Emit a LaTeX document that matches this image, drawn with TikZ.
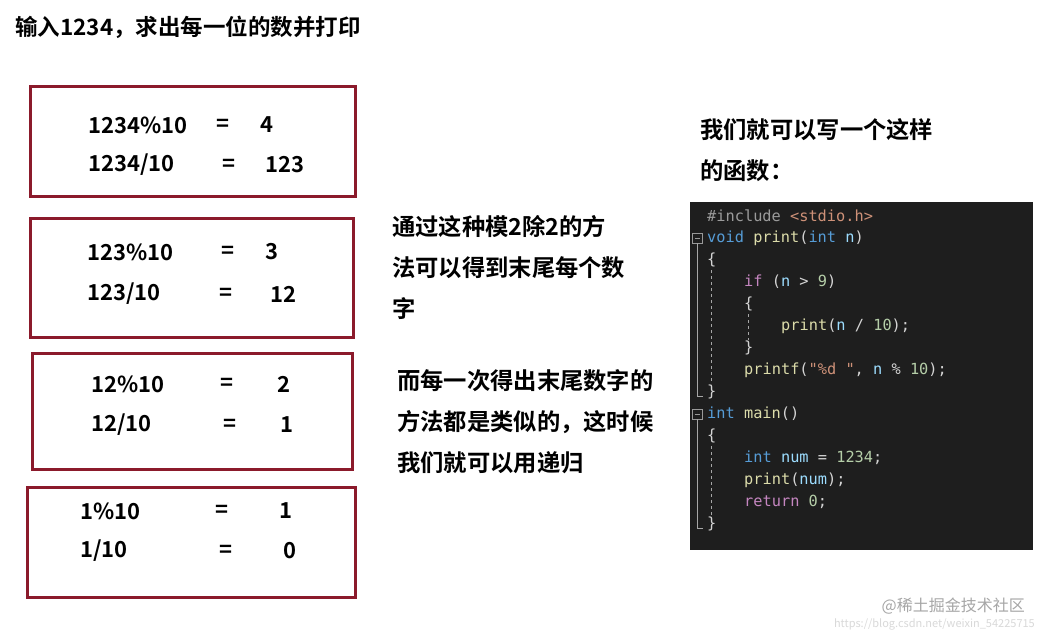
\documentclass[tikz,border=0pt]{standalone}
\usepackage{fontspec}
\setmainfont{Noto Sans CJK SC}[BoldFont=* Bold]
\newfontfamily\codefont{DejaVu Sans Mono}
\definecolor{boxred}{HTML}{8B1A2B}
\definecolor{codebg}{HTML}{1E1E1E}
\definecolor{kw}{HTML}{569CD6}
\definecolor{ctl}{HTML}{C586C0}
\definecolor{fn}{HTML}{DCDCAA}
\definecolor{prm}{HTML}{9CDCFE}
\definecolor{numc}{HTML}{B5CEA8}
\definecolor{strc}{HTML}{CE9178}
\definecolor{pun}{HTML}{D4D4D4}
\definecolor{pre}{HTML}{9B9B9B}
\begin{document}
\begin{tikzpicture}[x=1pt,y=-1pt,
  redbox/.style={draw=boxred,line width=3pt},
  mtxt/.style={anchor=west,font=\fontsize{22}{22}\selectfont\bfseries,inner sep=0},
  ctxt/.style={anchor=west,font=\fontsize{23.3}{23}\selectfont\bfseries,inner sep=0},
  code/.style={anchor=west,font=\fontsize{15.3}{15}\codefont,inner sep=0,text=pun},
  guide/.style={draw=gray!70,line width=0.6pt}]
\useasboundingbox (0,0) rectangle (1043,637);
\fill[white] (0,0) rectangle (1043,637);
\node[ctxt,font=\fontsize{22.5}{22}\selectfont\bfseries] (title) at (15,27) {输入1234，求出每一位的数并打印};
% boxes
\draw[redbox] (30,86) rectangle (355,196);
\draw[redbox] (30,218) rectangle (353,337);
\draw[redbox] (32,353) rectangle (352,469);
\draw[redbox] (27,487) rectangle (355,597);
\node[mtxt] (a1) at (88,125) {1234\%10}; \node[mtxt] (a2) at (216,125) {=}; \node[mtxt] (a3) at (260,125) {4};
\node[mtxt] (a4) at (88,165) {1234/10}; \node[mtxt] (a5) at (222,165) {=}; \node[mtxt] (a6) at (265,165) {123};
\node[mtxt] (b1) at (87,252) {123\%10}; \node[mtxt] (b2) at (221,252) {=}; \node[mtxt] (b3) at (265,252) {3};
\node[mtxt] (b4) at (87,294) {123/10}; \node[mtxt] (b5) at (219,294) {=}; \node[mtxt] (b6) at (270,294) {12};
\node[mtxt] (c1) at (91,384) {12\%10}; \node[mtxt] (c2) at (220,384) {=}; \node[mtxt] (c3) at (277,384) {2};
\node[mtxt] (c4) at (91,425) {12/10}; \node[mtxt] (c5) at (223,425) {=}; \node[mtxt] (c6) at (280,425) {1};
\node[mtxt] (d1) at (80,511) {1\%10}; \node[mtxt] (d2) at (215,511) {=}; \node[mtxt] (d3) at (279,511) {1};
\node[mtxt] (d4) at (80,551) {1/10}; \node[mtxt] (d5) at (219,551) {=}; \node[mtxt] (d6) at (283,551) {0};
% middle text
\node[ctxt] (m1) at (392,227) {通过这种模2除2的方};
\node[ctxt] (m2) at (392,268) {法可以得到末尾每个数};
\node[ctxt] (m3) at (392,309) {字};
\node[ctxt] (n1) at (397,381) {而每一次得出末尾数字的};
\node[ctxt] (n2) at (397,422) {方法都是类似的，这时候};
\node[ctxt] (n3) at (397,463) {我们就可以用递归};
\node[ctxt] (r1) at (700,130) {我们就可以写一个这样};
\node[ctxt] (r2) at (700,171) {的函数：};
% code
\fill[codebg] (690,202) rectangle (1033,550);
\node[code] (l1) at (707,216) {\textcolor{pre}{\#include} \textcolor{strc}{<stdio.h>}};
\node[code] (l2) at (707,238) {\textcolor{kw}{void} \textcolor{fn}{print}(\textcolor{kw}{int} \textcolor{prm}{n})};
\node[code] (l3) at (707,260) {\{};
\node[code] (l4) at (744,282) {\textcolor{ctl}{if} (\textcolor{prm}{n} > \textcolor{numc}{9})};
\node[code] (l5) at (744,304) {\{};
\node[code] (l6) at (781,326) {\textcolor{fn}{print}(\textcolor{prm}{n} / \textcolor{numc}{10});};
\node[code] (l7) at (744,348) {\}};
\node[code] (l8) at (744,370) {\textcolor{fn}{printf}(\textcolor{strc}{"\%d "}, \textcolor{prm}{n} \% \textcolor{numc}{10});};
\node[code] (l9) at (707,392) {\}};
\node[code] (l10) at (707,414) {\textcolor{kw}{int} \textcolor{fn}{main}()};
\node[code] (l11) at (707,436) {\{};
\node[code] (l12) at (744,458) {\textcolor{kw}{int} \textcolor{prm}{num} = \textcolor{numc}{1234};};
\node[code] (l13) at (744,480) {\textcolor{fn}{print}(\textcolor{prm}{num});};
\node[code] (l14) at (744,502) {\textcolor{ctl}{return} \textcolor{numc}{0};};
\node[code] (l15) at (707,524) {\}};
% fold markers
\foreach \yy in {238,414}{
  \draw[draw=gray!80,line width=0.6pt] (692,\yy-5) rectangle (702,\yy+5);
  \draw[draw=gray!80,line width=0.6pt] (694.5,\yy) -- (699.5,\yy);
}
\draw[guide] (697,243) -- (697,396) -- (703,396);
\draw[guide] (697,419) -- (697,528) -- (703,528);
\draw[guide,dash pattern=on 3pt off 3pt] (711,270) -- (711,384);
\draw[guide,dash pattern=on 3pt off 3pt] (748,314) -- (748,340);
\draw[guide,dash pattern=on 3pt off 3pt] (711,446) -- (711,516);
% watermark
\node[anchor=east,inner sep=0,font=\fontsize{11}{11}\selectfont,text=gray!30] (wm2) at (1035,624) {https://blog.csdn.net/weixin\_54225715};
\node[anchor=east,inner sep=0,font=\fontsize{16}{16}\selectfont,text=gray!70] (wm) at (1025,606) {@稀土掘金技术社区};
\end{tikzpicture}
\end{document}
